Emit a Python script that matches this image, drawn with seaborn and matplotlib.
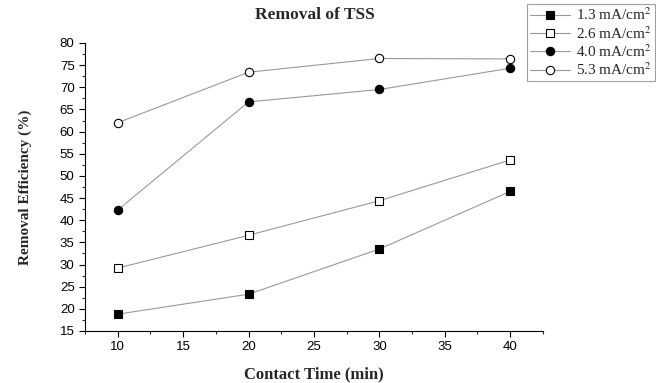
import matplotlib
matplotlib.use("Agg")
import matplotlib.pyplot as plt
import seaborn as sns
import pandas as pd
from matplotlib.ticker import MultipleLocator
from matplotlib.lines import Line2D

time_min = [10, 20, 30, 40]
series_labels = [r"1.3 mA/cm$^2$", r"2.6 mA/cm$^2$", r"4.0 mA/cm$^2$", r"5.3 mA/cm$^2$"]
eff_13 = [18.8, 23.3, 33.5, 46.5]
eff_26 = [29.2, 36.6, 44.4, 53.6]
eff_40 = [42.3, 66.7, 69.5, 74.3]
eff_53 = [62.0, 73.4, 76.5, 76.4]

sns.set_style("ticks")
plt.rcParams["font.family"] = ["Liberation Sans", "DejaVu Sans"]
plt.rcParams["mathtext.fontset"] = "stix"

fig = plt.figure(figsize=(6.56, 3.83), dpi=100)
ax = fig.add_axes([0.1296, 0.1358, 0.698, 0.752])

styles = [("s", "black"), ("s", "white"), ("o", "black"), ("o", "white")]
handles = []
for lab, vals, (mk, fc) in zip(series_labels, [eff_13, eff_26, eff_40, eff_53], styles):
    df = pd.DataFrame({"t": time_min, "e": vals})
    sns.lineplot(data=df, x="t", y="e", ax=ax, color="#999999", linewidth=0.8,
                 marker=mk, markersize=6, markerfacecolor=fc, markeredgecolor="black",
                 markeredgewidth=0.8)
    handles.append(Line2D([0], [0], color="#999999", linewidth=0.8, marker=mk, markersize=6,
                          markerfacecolor=fc, markeredgecolor="black", markeredgewidth=0.8))

ax.set_xlim(7.5, 42.5)
ax.set_ylim(15, 80)
ax.xaxis.set_major_locator(MultipleLocator(5))
ax.xaxis.set_minor_locator(MultipleLocator(2.5))
ax.yaxis.set_major_locator(MultipleLocator(5))
ax.yaxis.set_minor_locator(MultipleLocator(2.5))
ax.tick_params(which="major", length=4, width=0.8, labelsize=9.5, direction="out", colors="black")
ax.tick_params(which="minor", length=2.5, width=0.8, direction="out")
for s in ["top", "right"]:
    ax.spines[s].set_visible(False)
for s in ["left", "bottom"]:
    ax.spines[s].set_linewidth(0.8)
    ax.spines[s].set_color("black")

serif = ["Liberation Serif", "DejaVu Serif"]
ax.set_xlabel("Contact Time (min)", fontfamily=serif, fontweight="bold", fontsize=12, labelpad=9)
ax.set_ylabel("Removal Efficiency (%)", fontfamily=serif, fontweight="bold", fontsize=11, labelpad=20)
fig.text(0.48, 0.96, "Removal of TSS", fontfamily=serif, fontweight="bold", fontsize=12.5,
         ha="center", va="center")

leg = fig.legend(handles, series_labels, loc="upper right", bbox_to_anchor=(0.998, 0.99),
                 prop={"family": serif, "size": 11}, frameon=True, fancybox=False,
                 handlelength=2.6, handletextpad=0.4, borderpad=0.2, labelspacing=0.1,
                 borderaxespad=0)
leg.get_frame().set_edgecolor("#888888")
leg.get_frame().set_linewidth(0.8)

fig.savefig("out.png", dpi=100)
